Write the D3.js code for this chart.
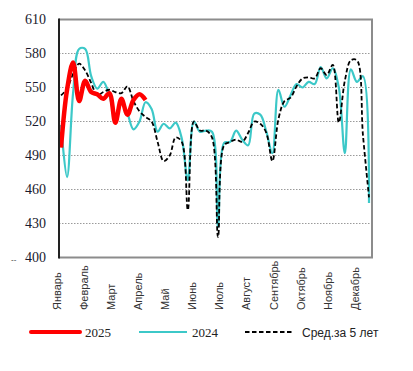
<!DOCTYPE html>
<html><head><meta charset="utf-8">
<script src="https://cdn.jsdelivr.net/npm/d3@7"></script>
<style>body{margin:0;background:#fff}svg{display:block}</style>
</head><body>
<svg id="c" width="413" height="371"></svg>
<script>
const months = ["Январь","Февраль","Март","Апрель","Май","Июнь","Июль","Август","Сентябрь","Октябрь","Ноябрь","Декабрь"];
const yTicks = [400,430,460,490,520,550,580,610];
const series2025 = [497,548,572,538,556,546,544,540,545,519,540,526,539,544,539];
const series2024 = [517,471,545,584,584,560,549,555,543,524,537,527,513,520,537,531,511,518,514,519,505,468,520,511,512,511,427,501,502,512,504,499,527,526,511,492,548,533,543,553,550,555,553,568,558,567,550,492,566,555,560,448];
const seriesAvg = [543,549,562,571,565,554,543,546,548,546,545,551,538,529,524,520,502,485,490,506,502,442,520,512,512,506,418,499,502,504,502,510,520,518,510,485,522,538,541,551,558,559,558,567,561,570,519,556,574,574,508,453];
const legendLabels = ["2025","2024","Сред.за 5 лет"];

const svg = d3.select("#c");
const L = 59, R = 372, T = 19.5, B = 257.5;
const x = d3.scaleLinear().domain([1,52]).range([61,369]);
const y = d3.scaleLinear().domain([400,610]).range([B,T]);
const xm = d3.scalePoint().domain(months).range([57,355]);

// gridlines
svg.append("g").selectAll("line").data(yTicks.filter(d=>d>400&&d<610)).join("line")
  .attr("x1",L).attr("x2",R).attr("y1",d=>y(d)).attr("y2",d=>y(d))
  .attr("stroke","#9a9a9a").attr("stroke-width",1).attr("stroke-dasharray","1.5,1.5");

// frame
svg.append("line").attr("x1",L).attr("x2",R+1).attr("y1",T).attr("y2",T).attr("stroke","#8c8c8c").attr("stroke-width",2);
svg.append("line").attr("x1",L).attr("x2",R+1).attr("y1",B).attr("y2",B).attr("stroke","#8c8c8c").attr("stroke-width",2);
svg.append("line").attr("x1",R).attr("x2",R).attr("y1",T).attr("y2",B).attr("stroke","#8c8c8c").attr("stroke-width",2);

// y axis labels
svg.append("g").selectAll("text").data(yTicks).join("text")
  .attr("x",46).attr("y",d=>y(d)).attr("dy","0.35em").attr("text-anchor","end")
  .attr("font-family","Liberation Serif, serif").attr("font-size",14).attr("fill","#1a1a2e")
  .text(d=>d);

// small artifact near bottom-left
svg.append("text").attr("x",11).attr("y",262).attr("font-family","Liberation Sans").attr("font-size",8).attr("fill","#333").text("--");

// month labels
svg.append("g").selectAll("text").data(months).join("text")
  .attr("transform",d=>`translate(${xm(d)},310) rotate(-90)`)
  .attr("dy","0.35em").attr("text-anchor","start")
  .attr("font-family","Liberation Sans, Arial, sans-serif").attr("font-size",11).attr("fill","#333")
  .text(d=>d);

const line = d3.line().x((d,i)=>x(i+1)).y(d=>y(d)).curve(d3.curveCatmullRom.alpha(0.5));

svg.append("path").datum(series2024).attr("d",line).attr("fill","none").attr("stroke","#3cc8c8").attr("stroke-width",2.2);
svg.append("path").datum(seriesAvg).attr("d",line).attr("fill","none").attr("stroke","#000").attr("stroke-width",1.8).attr("stroke-dasharray","4.5,2.5");
svg.append("path").datum(series2025).attr("d",line).attr("fill","none").attr("stroke","#ff0000").attr("stroke-width",4.5).attr("stroke-linejoin","round");

// left axis line
svg.append("line").attr("x1",L).attr("x2",L).attr("y1",T-1).attr("y2",B+1).attr("stroke","#222").attr("stroke-width",2);

// legend
const lg = svg.append("g");
const ly = 332;
lg.append("line").attr("x1",31).attr("x2",80).attr("y1",ly).attr("y2",ly).attr("stroke","#ff0000").attr("stroke-width",4).attr("stroke-linecap","round");
lg.append("text").attr("x",85).attr("y",ly).attr("dy","0.35em").attr("font-family","Liberation Serif, serif").attr("font-size",13).attr("fill","#222").text(legendLabels[0]);
lg.append("line").attr("x1",139).attr("x2",187).attr("y1",ly).attr("y2",ly).attr("stroke","#3cc8c8").attr("stroke-width",2.2);
lg.append("text").attr("x",192).attr("y",ly).attr("dy","0.35em").attr("font-family","Liberation Serif, serif").attr("font-size",13).attr("fill","#222").text(legendLabels[1]);
lg.append("line").attr("x1",245).attr("x2",293).attr("y1",ly).attr("y2",ly).attr("stroke","#000").attr("stroke-width",1.8).attr("stroke-dasharray","4.5,2.5");
lg.append("text").attr("x",302).attr("y",ly+1).attr("dy","0.35em").attr("font-family","Liberation Sans, Arial, sans-serif").attr("font-size",12).attr("fill","#222").text(legendLabels[2]);
</script>
</body></html>
